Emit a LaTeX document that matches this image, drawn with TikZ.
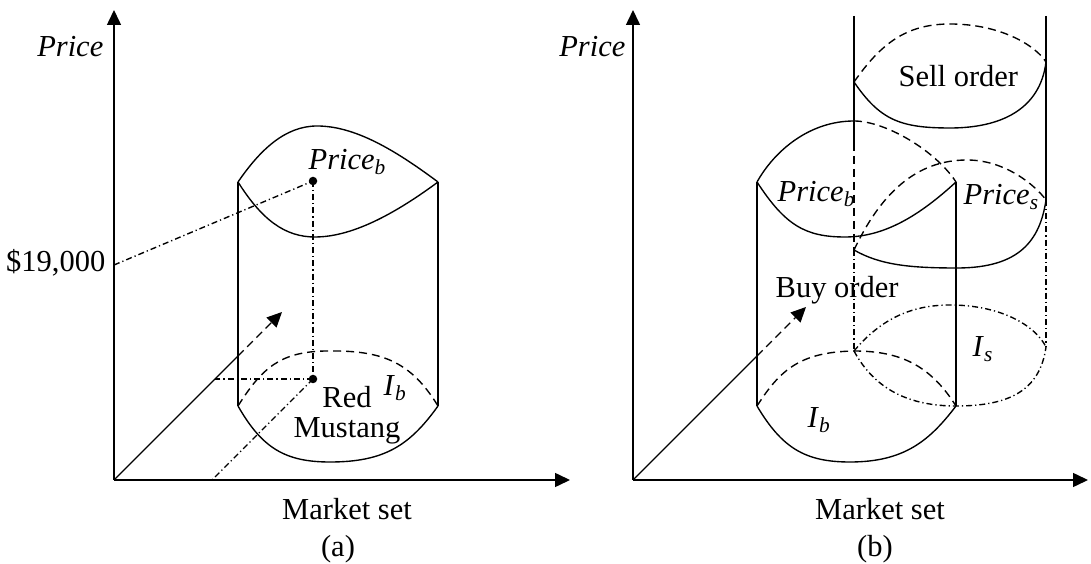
\documentclass[tikz,border=0pt]{standalone}
\usepackage{fontspec}
\setmainfont{Liberation Serif}
\usetikzlibrary{arrows.meta}
\tikzset{axis/.style={line width=0.6pt,-{Triangle[length=6pt,width=5.6pt]}}}
\tikzset{hidden/.style={dash pattern=on 3.2pt off 2pt}}
\tikzset{proj/.style={dash pattern=on 2.4pt off 1.2pt on 0.5pt off 1.2pt}}
\tikzset{lbl/.style={inner sep=0pt,font=\fontsize{12.2}{10.5}\selectfont}}

\begin{document}
\begin{tikzpicture}[x=0.4pt,y=-0.4pt,line width=0.55pt]
\useasboundingbox (0,0) rectangle (1091,564);

% panel (a): the axes
\coordinate (oa) at (114,480);
\coordinate (ya) at (114,10);
\coordinate (xa) at (570,480);
\coordinate (za1) at (238,356);
\coordinate (za) at (282,312);
\draw[axis] (oa) -- (ya);
\draw[axis] (oa) -- (xa);
\draw (oa) -- (za1);
\draw[hidden,-{Triangle[length=6pt,width=5.6pt]}] (za1) -- (za);

% the buyer cylinder
\coordinate (tl) at (238,182);
\coordinate (tr) at (438,182);
\coordinate (bl) at (238,406);
\coordinate (br) at (438,406);
\draw (tl) -- (bl);
\draw (tr) -- (br);
\draw (tl) .. controls (260,150) and (285,126) .. (317,126) .. controls (355,126) and (395,150) .. (tr);
\draw (tl) .. controls (262,220) and (285,237) .. (315,237) .. controls (355,237) and (400,210) .. (tr);
\draw[hidden] (bl) .. controls (262,368) and (280,352) .. (325,351) .. controls (380,350) and (410,360) .. (br);
\draw (bl) .. controls (262,448) and (285,462) .. (330,462) .. controls (385,462) and (410,445) .. (br);

% projections of the red mustang
\coordinate (pv) at (114,265);
\coordinate (pb) at (313,181);
\coordinate (rm) at (313,379);
\coordinate (ha) at (215,379);
\coordinate (ga) at (212,480);
\draw[proj] (pv) -- (pb);
\draw[proj] (pb) -- (rm);
\draw[proj] (rm) -- (ha);
\draw[proj] (rm) -- (ga);
\foreach \p in {pb,rm}
  \fill (\p) circle[radius=1.7pt];

\node[lbl,anchor=base east] (pricea) at (104,57) {\textit{Price}};
\node[lbl,anchor=base east] (dollar) at (106,272) {\$19,000};
\node[lbl,anchor=base west] (pricebl) at (308,170) {\textit{Price}\textsubscript{\textit{b}}};
\node[lbl,anchor=base west] (ibl) at (383,396) {\textit{I}\textsubscript{\textit{b}}};
\node[lbl,anchor=base] (red) at (347,408) {Red};
\node[lbl,anchor=base] (mustang) at (347,438) {Mustang};
\node[lbl,anchor=base] (marketa) at (347,520) {Market set};
\node[lbl,anchor=base] (capa) at (338,556) {(a)};

% panel (b): the axes
\coordinate (ob) at (633,480);
\coordinate (yb) at (633,10);
\coordinate (xb) at (1088,480);
\coordinate (zb1) at (757,356);
\coordinate (zb) at (806,307);
\draw[axis] (ob) -- (yb);
\draw[axis] (ob) -- (xb);
\draw (ob) -- (zb1);
\draw[hidden,-{Triangle[length=6pt,width=5.6pt]}] (zb1) -- (zb);

% the buy order
\coordinate (btl) at (757,182);
\coordinate (btr) at (956,182);
\coordinate (bbl) at (757,406);
\coordinate (bbr) at (956,406);
\coordinate (btp) at (854,121);
\coordinate (bbp) at (854,351);
\draw (btl) -- (bbl);
\draw (btr) -- (bbr);
\draw (btl) .. controls (775,150) and (810,121) .. (btp);
\draw[hidden] (btp) .. controls (885,121) and (935,150) .. (btr);
\draw (btl) .. controls (785,225) and (805,237) .. (845,237) .. controls (885,237) and (920,215) .. (btr);
\draw[hidden] (bbl) .. controls (780,370) and (800,352) .. (bbp) .. controls (900,351) and (930,365) .. (bbr);
\draw (bbl) .. controls (782,448) and (805,462) .. (850,462) .. controls (905,462) and (930,440) .. (bbr);

% the sell order
\coordinate (sl0) at (854,16);
\coordinate (sl1) at (854,143);
\coordinate (stl) at (854,82);
\coordinate (sml) at (854,250);
\coordinate (sr0) at (1046,16);
\coordinate (str) at (1046,62);
\coordinate (smr) at (1046,200);
\coordinate (sbr) at (1046,347);
\draw (sl0) -- (sl1);
\draw[hidden] (sl1) -- (sml);
\draw[proj] (sml) -- (bbp);
\draw (sr0) -- (smr);
\draw[proj] (smr) -- (sbr);
\draw[hidden] (stl) .. controls (880,45) and (905,24) .. (950,24) .. controls (1000,24) and (1035,45) .. (str);
\draw (stl) .. controls (880,120) and (900,128) .. (950,128) .. controls (1000,128) and (1040,110) .. (str);
\draw[hidden] (sml) .. controls (880,195) and (915,160) .. (967,160) .. controls (1005,160) and (1035,185) .. (smr);
\draw (sml) .. controls (880,265) and (910,268) .. (957,268) .. controls (1020,268) and (1040,240) .. (smr);
\draw[proj] (bbp) .. controls (880,320) and (910,305) .. (950,305) .. controls (1000,305) and (1035,325) .. (sbr);
\draw[proj] (bbp) .. controls (875,390) and (910,406) .. (bbr) .. controls (1010,406) and (1040,390) .. (sbr);

\node[lbl,anchor=base east] (priceb) at (626,57) {\textit{Price}};
\node[lbl,anchor=base west] (pricebr) at (777,202) {\textit{Price}\textsubscript{\textit{b}}};
\node[lbl,anchor=base west] (prices) at (963,205) {\textit{Price}\textsubscript{\textit{s}}};
\node[lbl,anchor=base west] (sell) at (898,87) {Sell order};
\node[lbl,anchor=base west] (buy) at (775,298) {Buy order};
\node[lbl,anchor=base west] (isr) at (972,357) {\textit{I}\textsubscript{\textit{s}}};
\node[lbl,anchor=base west] (ibr) at (807,428) {\textit{I}\textsubscript{\textit{b}}};
\node[lbl,anchor=base] (marketb) at (880,520) {Market set};
\node[lbl,anchor=base] (capb) at (875,556) {(b)};
\end{tikzpicture}
\end{document}
